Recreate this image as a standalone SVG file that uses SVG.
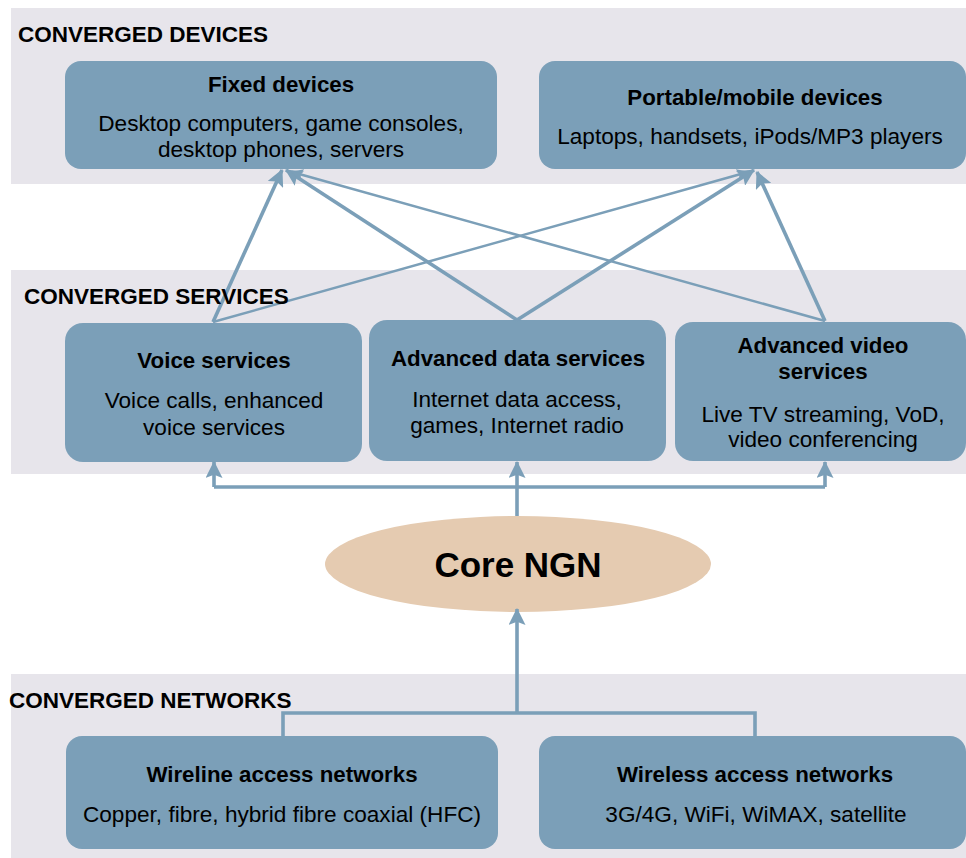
<svg xmlns="http://www.w3.org/2000/svg" width="966" height="858" viewBox="0 0 966 858">
  <style>
    text { font-family: "Liberation Sans", Arial, sans-serif; fill: #000; text-anchor: middle; }
    .band { fill: #e7e5eb; }
    .band-label { font-size: 22.5px; font-weight: bold; text-anchor: start; }
    .box { fill: #7b9fb8; }
    .title { font-size: 22.3px; font-weight: bold; }
    .body { font-size: 22.6px; }
    .core { fill: #e5cbb1; }
    .core-label { font-size: 35px; font-weight: bold; }
    .wire { fill: none; stroke: #7b9fb8; stroke-width: 3.6; }
    .wire-thin { fill: none; stroke: #7b9fb8; stroke-width: 2.5; }
  </style>
  <defs>
    <marker id="arrow" viewBox="0 0 16 16" refX="15" refY="8" markerWidth="17" markerHeight="17" markerUnits="userSpaceOnUse" orient="auto">
      <path d="M0,0 L16,8 L0,16 L3,8 z" fill="#7b9fb8"/>
    </marker>
    <marker id="arrow-small" viewBox="0 0 12 12" refX="11" refY="6" markerWidth="12" markerHeight="12" markerUnits="userSpaceOnUse" orient="auto">
      <path d="M0,0 L12,6 L0,12 L2,6 z" fill="#7b9fb8"/>
    </marker>
  </defs>

  <!-- layer bands -->
  <g id="band-devices">
    <rect class="band" x="11" y="8" width="955" height="176"/>
    <text class="band-label" x="18" y="42">CONVERGED DEVICES</text>
  </g>
  <g id="band-services">
    <rect class="band" x="11" y="270" width="955" height="204"/>
  </g>
  <g id="band-networks">
    <rect class="band" x="11" y="674" width="955" height="184"/>
    <text class="band-label" x="9" y="708">CONVERGED NETWORKS</text>
  </g>

  <!-- device nodes -->
  <g id="fixed-devices">
    <rect class="box" x="65" y="61" width="432" height="108" rx="16"/>
    <text class="title" x="281" y="92">Fixed devices</text>
    <text class="body" x="281" y="131">Desktop computers, game consoles,</text>
    <text class="body" x="281" y="157">desktop phones, servers</text>
  </g>
  <g id="portable-devices">
    <rect class="box" x="539" y="61" width="427" height="108" rx="16"/>
    <text class="title" x="755" y="105">Portable/mobile devices</text>
    <text class="body" x="750" y="144">Laptops, handsets, iPods/MP3 players</text>
  </g>

  <!-- service nodes -->
  <g id="voice-services">
    <rect class="box" x="65" y="323" width="297" height="139" rx="18"/>
    <text class="title" x="214" y="368">Voice services</text>
    <text class="body" x="214" y="408">Voice calls, enhanced</text>
    <text class="body" x="214" y="435">voice services</text>
  </g>
  <g id="data-services">
    <rect class="box" x="369" y="320" width="297" height="141" rx="18"/>
    <text class="title" x="518" y="366">Advanced data services</text>
    <text class="body" x="517" y="407">Internet data access,</text>
    <text class="body" x="517" y="433">games, Internet radio</text>
  </g>
  <g id="video-services">
    <rect class="box" x="675" y="322" width="291" height="139" rx="18"/>
    <text class="title" x="823" y="353">Advanced video</text>
    <text class="title" x="823" y="379">services</text>
    <text class="body" x="823" y="422">Live TV streaming, VoD,</text>
    <text class="body" x="823" y="447">video conferencing</text>
  </g>

  <!-- core network -->
  <g id="core-ngn">
    <ellipse class="core" cx="518" cy="564" rx="193" ry="48"/>
    <text class="core-label" x="518" y="577">Core NGN</text>
  </g>

  <!-- access network nodes -->
  <g id="wireline-access">
    <rect class="box" x="66" y="736" width="432" height="113" rx="16"/>
    <text class="title" x="282" y="782">Wireline access networks</text>
    <text class="body" x="282" y="822">Copper, fibre, hybrid fibre coaxial (HFC)</text>
  </g>
  <g id="wireless-access">
    <rect class="box" x="539" y="736" width="427" height="113" rx="16"/>
    <text class="title" x="755" y="782">Wireless access networks</text>
    <text class="body" x="756" y="822">3G/4G, WiFi, WiMAX, satellite</text>
  </g>

  <!-- connectors -->
  <g id="connectors">
    <!-- services to devices -->
    <path class="wire" d="M213,322 L282,170" marker-end="url(#arrow)"/>
    <path class="wire" d="M517,320 L286,170" marker-end="url(#arrow)"/>
    <path class="wire-thin" d="M825,321 L292,172" marker-end="url(#arrow-small)"/>
    <path class="wire-thin" d="M213,322 L748,172" marker-end="url(#arrow-small)"/>
    <path class="wire" d="M517,320 L754,170" marker-end="url(#arrow)"/>
    <path class="wire" d="M825,321 L757,172" marker-end="url(#arrow)"/>
    <!-- core to services -->
    <path class="wire" d="M214,487 H825"/>
    <path class="wire" d="M214,487 V462" marker-end="url(#arrow)"/>
    <path class="wire" d="M825,487 V462" marker-end="url(#arrow)"/>
    <path class="wire" d="M517,516 V462" marker-end="url(#arrow)"/>
    <!-- access networks to core -->
    <path class="wire" d="M283,736 V713 H755 V736"/>
    <path class="wire" d="M517,713 V609" marker-end="url(#arrow)"/>
  </g>

  <!-- drawn above the connectors that cross it -->
  <text class="band-label" x="24" y="304">CONVERGED SERVICES</text>
</svg>
